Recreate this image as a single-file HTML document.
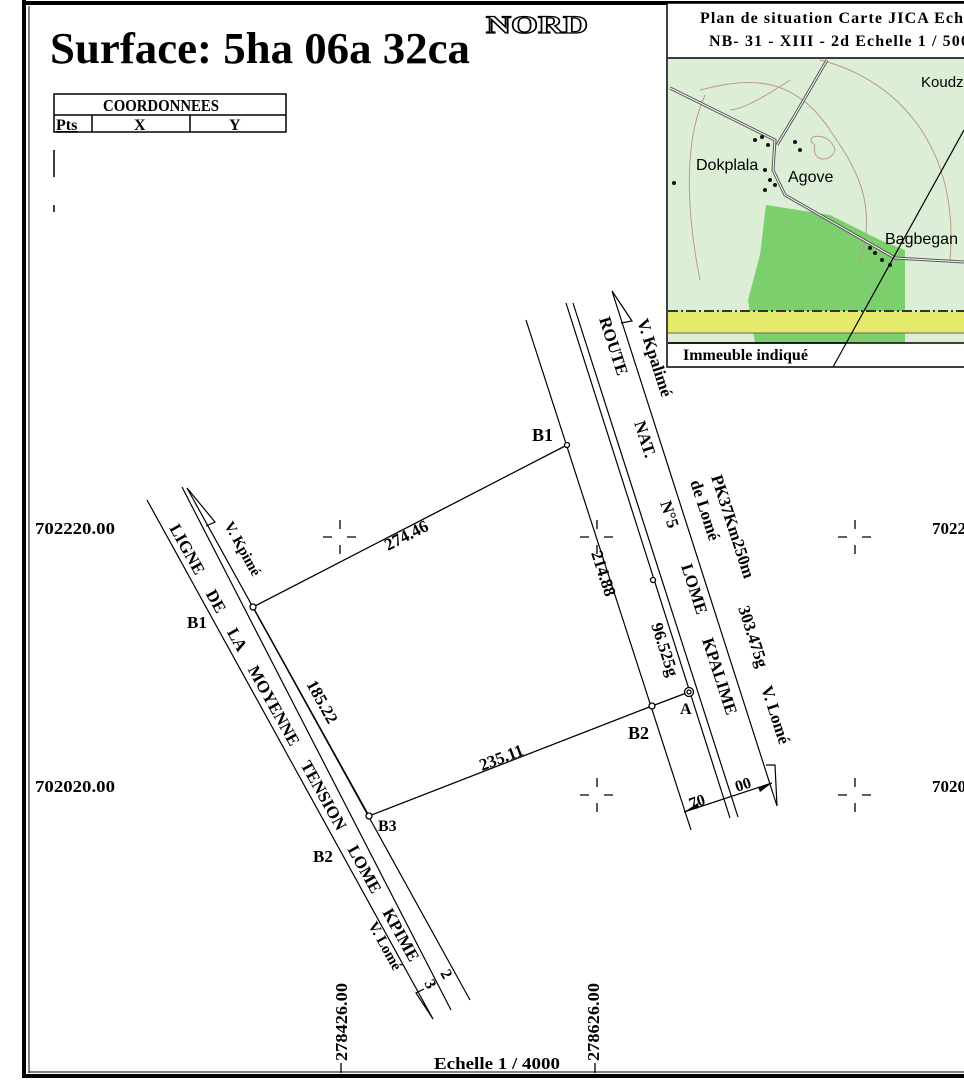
<!DOCTYPE html>
<html><head><meta charset="utf-8"><style>
html,body{margin:0;padding:0;background:#fff}
svg{display:block}
text{font-family:"Liberation Serif",serif;font-weight:bold;fill:#000}
.s{font-family:"Liberation Sans",sans-serif;font-weight:normal}
</style></head><body>
<svg width="964" height="1080" viewBox="0 0 964 1080" xmlns="http://www.w3.org/2000/svg">
<rect x="0" y="0" width="964" height="1080" fill="#fff"/>
<!-- frame -->
<line x1="24" y1="0" x2="24" y2="1078" stroke="#000" stroke-width="4"/>
<line x1="22" y1="3" x2="964" y2="3" stroke="#000" stroke-width="4"/>
<line x1="22" y1="1076" x2="964" y2="1076" stroke="#000" stroke-width="4"/>
<line x1="29" y1="6" x2="29" y2="1073" stroke="#000" stroke-width="1"/>
<line x1="29" y1="1072" x2="964" y2="1072" stroke="#000" stroke-width="1"/>

<text x="50" y="63" font-size="44" textLength="420" lengthAdjust="spacingAndGlyphs">Surface: 5ha 06a 32ca</text>
<text x="486" y="33" font-size="25" textLength="102" lengthAdjust="spacingAndGlyphs" stroke="#000" stroke-width="1.3" style="fill:#fff">NORD</text>

<!-- table -->
<g stroke="#000" stroke-width="1.5" fill="none">
<rect x="54" y="94" width="232" height="38"/>
<line x1="54" y1="115" x2="286" y2="115"/>
<line x1="92" y1="115" x2="92" y2="132"/>
<line x1="190" y1="115" x2="190" y2="132"/>
<line x1="54" y1="150" x2="54" y2="177"/>
<line x1="54" y1="205" x2="54" y2="212"/>
</g>
<text x="103" y="111" font-size="17" textLength="116" lengthAdjust="spacingAndGlyphs">COORDONNEES</text>
<text x="56" y="130" font-size="16" text-decoration="underline">Pts</text>
<text x="134" y="130" font-size="16">X</text>
<text x="229" y="130" font-size="16">Y</text>

<!-- inset -->
<rect x="667" y="3" width="300" height="364" fill="#fff" stroke="#000" stroke-width="1.5"/>
<text x="700" y="23" font-size="16" letter-spacing="1.1">Plan de situation Carte JICA Echelle</text>
<text x="709" y="46" font-size="16" letter-spacing="1.1">NB- 31 - XIII - 2d Echelle 1 / 50000</text>
<rect x="668" y="58" width="296" height="285" fill="#dcefd6"/>
<path d="M766 205 L830 215 L880 240 L905 250 L905 343 L755 343 L748 300 L760 255 Z" fill="#7ccf6d"/>
<rect x="668" y="311" width="296" height="22" fill="#e6ea6a"/>
<line x1="668" y1="311" x2="964" y2="311" stroke="#333" stroke-width="2" stroke-dasharray="10 3 2 3"/>
<line x1="668" y1="333" x2="964" y2="333" stroke="#666" stroke-width="1"/>
<g fill="none" stroke="#b98" stroke-width="1">
<path d="M700 90 C740 80 790 70 830 130 C850 160 880 200 860 260"/>
<path d="M820 60 C900 80 960 150 950 260"/>
<path d="M705 95 C680 150 690 230 700 280"/>
<path d="M790 80 C760 100 740 110 730 110"/>
<path d="M815 145 C800 135 830 130 835 150 C830 165 810 160 815 145"/>
</g>
<path d="M670 88 L775 140 L773 170 L785 195 L895 258 L964 262" fill="none" stroke="#555" stroke-width="3"/>
<path d="M670 88 L775 140 L773 170 L785 195 L895 258 L964 262" fill="none" stroke="#fff" stroke-width="1"/>
<path d="M827 60 L795 115 L777 145" fill="none" stroke="#555" stroke-width="3"/>
<path d="M827 60 L795 115 L777 145" fill="none" stroke="#fff" stroke-width="1"/>
<g fill="#111">
<circle cx="755" cy="140" r="2"/><circle cx="762" cy="137" r="2"/><circle cx="768" cy="145" r="2"/><circle cx="795" cy="142" r="2"/><circle cx="800" cy="150" r="2"/><circle cx="765" cy="170" r="2"/><circle cx="770" cy="180" r="2"/><circle cx="765" cy="190" r="2"/><circle cx="775" cy="185" r="2"/><circle cx="875" cy="253" r="2"/><circle cx="882" cy="260" r="2"/><circle cx="890" cy="265" r="2"/><circle cx="870" cy="248" r="2"/><circle cx="674" cy="183" r="2"/>
</g>
<text class="s" x="921" y="87" font-size="15" style="font-family:'Liberation Sans',sans-serif;font-weight:normal">Koudz</text>
<text class="s" x="696" y="170" font-size="16" style="font-family:'Liberation Sans',sans-serif;font-weight:normal">Dokplala</text>
<text class="s" x="788" y="182" font-size="16" style="font-family:'Liberation Sans',sans-serif;font-weight:normal">Agove</text>
<text class="s" x="885" y="244" font-size="16" style="font-family:'Liberation Sans',sans-serif;font-weight:normal">Bagbegan</text>
<line x1="668" y1="58" x2="964" y2="58" stroke="#000" stroke-width="1.5"/>
<line x1="668" y1="343" x2="964" y2="343" stroke="#000" stroke-width="1.5"/>
<rect x="668" y="344" width="175" height="22" fill="#fff"/>
<line x1="833" y1="367" x2="964" y2="130" stroke="#000" stroke-width="1.2"/>
<line x1="668" y1="343" x2="846" y2="343" stroke="#000" stroke-width="1.5"/>
<text x="683" y="360" font-size="16">Immeuble indiqué</text>

<!-- coordinates -->
<text x="35" y="534" font-size="17" textLength="80" lengthAdjust="spacingAndGlyphs">702220.00</text>
<text x="35" y="792" font-size="17" textLength="80" lengthAdjust="spacingAndGlyphs">702020.00</text>
<text x="932" y="534" font-size="17">7022</text>
<text x="932" y="792" font-size="17">7020</text>
<line x1="29" y1="520" x2="29" y2="537" stroke="#000"/>
<line x1="29" y1="778" x2="29" y2="795" stroke="#000"/>
<g stroke="#000" stroke-width="1.3">
<path d="M323 537h9M347 537h9M340 520v9M340 545v9"/>
<path d="M580 537h9M604 537h9M597 520v9M597 545v9"/>
<path d="M838 537h9M862 537h9M855 520v9M855 545v9"/>
<path d="M580 795h9M604 795h9M597 778v9M597 803v9"/>
<path d="M838 795h9M862 795h9M855 778v9M855 803v9"/>
<path d="M341 1063v10M595 1063v10"/>
</g>
<text transform="translate(347,1061) rotate(-90)" font-size="17" textLength="78" lengthAdjust="spacingAndGlyphs">278426.00</text>
<text transform="translate(599,1061) rotate(-90)" font-size="17" textLength="78" lengthAdjust="spacingAndGlyphs">278626.00</text>
<text x="434" y="1069" font-size="17" textLength="126" lengthAdjust="spacingAndGlyphs">Echelle 1 / 4000</text>

<!-- road lines right -->
<g stroke="#000" stroke-width="1.2" fill="none">
<line x1="526" y1="320" x2="691" y2="830"/>
<line x1="566" y1="303" x2="730" y2="818"/>
<line x1="573" y1="303" x2="738" y2="817"/>
<path d="M612 291 L777 806 L775 765 L766 765"/>
<path d="M612 291 L632 321 L621 323"/>
<line x1="684" y1="812" x2="772" y2="783"/>
</g>
<path d="M684 812 L698 803 L699 808 Z M772 783 L758 787 L760 792 Z" fill="#000"/>
<text transform="translate(691,809) rotate(-18)" font-size="16">70</text>
<text transform="translate(737,792) rotate(-18)" font-size="16">00</text>

<!-- left MT lines -->
<g stroke="#000" stroke-width="1.2" fill="none">
<path d="M147 500 L433 1019 L416 993 L424 989"/>
<line x1="182" y1="487" x2="451" y2="1010"/>
<path d="M187 488 L470 1000"/>
<path d="M187 488 L215 522 L206 526"/>
</g>

<!-- parcel -->
<g stroke="#000" stroke-width="1.3" fill="none">
<polyline points="567,445 253,607 369,816 652,706 689,692"/>
<circle cx="567" cy="445" r="2.5" fill="#fff"/>
<circle cx="253" cy="607" r="3" fill="#fff"/>
<circle cx="369" cy="816" r="3" fill="#fff"/>
<circle cx="652" cy="706" r="3" fill="#fff"/>
<circle cx="689" cy="692" r="4.5" fill="#fff"/>
<circle cx="689" cy="692" r="2"/>
<circle cx="653" cy="580" r="2.5" fill="#fff"/>
</g>
<text x="532" y="441" font-size="18">B1</text>
<text x="628" y="739" font-size="18">B2</text>
<text x="378" y="831" font-size="16">B3</text>
<text x="680" y="714" font-size="16">A</text>
<text x="187" y="628" font-size="17">B1</text>
<text x="313" y="862" font-size="17">B2</text>

<text transform="translate(388,551) rotate(-27)" font-size="17">274.46</text>
<text transform="translate(306,684) rotate(61)" font-size="17">185.22</text>
<text transform="translate(482,771) rotate(-21)" font-size="17">235.11</text>
<text transform="translate(591,553) rotate(72)" font-size="17">214.88</text>
<text transform="translate(651,625) rotate(72)" font-size="17">96.525g</text>

<g font-size="17">
<text transform="translate(599,319) rotate(72)">ROUTE</text>
<text transform="translate(634,423) rotate(72)">NAT.</text>
<text transform="translate(660,503) rotate(72)">N°5</text>
<text transform="translate(681,566) rotate(72)">LOME</text>
<text transform="translate(702,640) rotate(72)">KPALIME</text>
<text transform="translate(637,321) rotate(72)">V. Kpalimé</text>
<text transform="translate(711,477) rotate(72)">PK37Km250m</text>
<text transform="translate(690,482) rotate(72)">de Lomé</text>
<text transform="translate(738,608) rotate(72)">303.475g</text>
<text transform="translate(761,688) rotate(72)">V. Lomé</text>
</g>
<text transform="translate(169,528) rotate(61)" font-size="17" word-spacing="16">LIGNE DE LA MOYENNE TENSION LOME KPIME</text>
<text transform="translate(224,525) rotate(61)" font-size="15">V. Kpimé</text>
<text transform="translate(368,925) rotate(61)" font-size="15">V. Lomé</text>
<text transform="translate(424,983) rotate(61)" font-size="16">3</text>
<text transform="translate(440,973) rotate(61)" font-size="16">2</text>
</svg>
</body></html>
